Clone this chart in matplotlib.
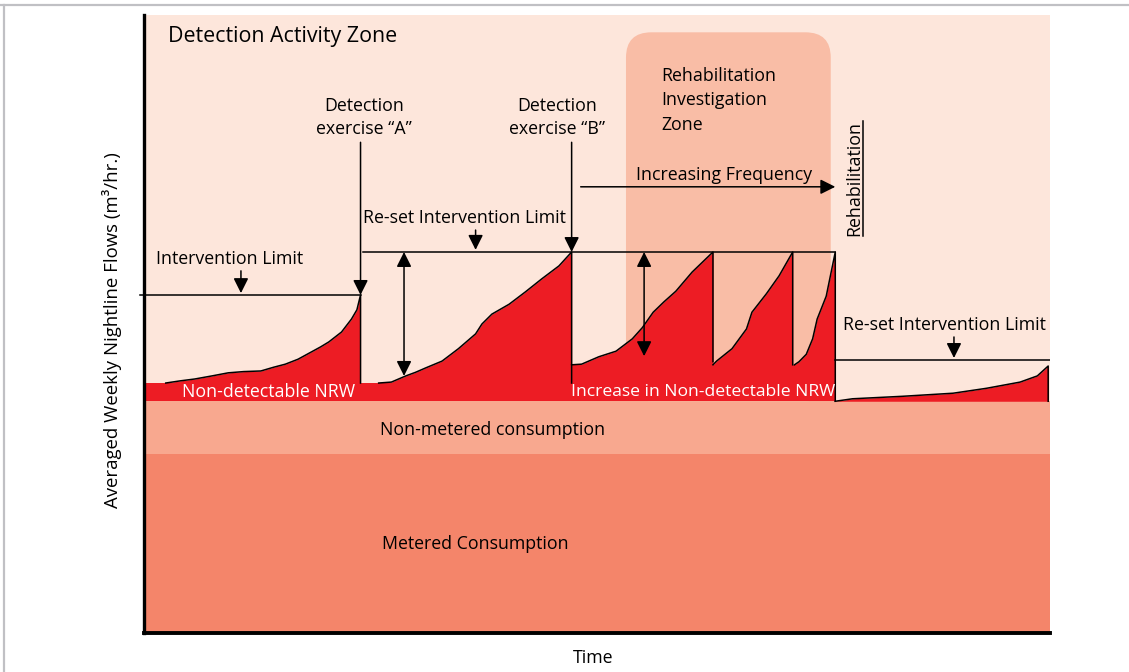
import matplotlib.pyplot as plt
from matplotlib.patches import FancyBboxPatch
from matplotlib.lines import Line2D

plt.rcParams['font.family'] = ['Open Sans', 'DejaVu Sans']

# flow levels on a 0-100 scale (time also 0-100)
metered_top = 29.0
non_metered_top = 37.5
nrw_base = 40.45
nrw_base_raised = 43.4
limit_initial = 54.7
limit_reset = 61.65
limit_final = 44.2

# leakage build-up between interventions
cycle1_t = [2.4, 4.0, 5.6, 7.5, 9.3, 11.0, 12.9, 14.3, 15.6, 17.0, 18.5, 19.5, 20.4, 21.8, 22.9, 23.5, 23.9]
cycle1_v = [40.45, 40.8, 41.1, 41.6, 42.1, 42.3, 42.4, 43.0, 43.5, 44.3, 45.5, 46.3, 47.1, 48.7, 50.8, 52.3, 54.7]
cycle2_t = [25.9, 27.3, 28.9, 30.0, 31.1, 32.9, 34.7, 36.6, 37.3, 38.4, 40.3, 42.1, 43.9, 45.8, 47.2]
cycle2_v = [40.45, 40.6, 41.6, 42.2, 42.9, 44.0, 46.0, 48.4, 50.0, 51.6, 53.2, 55.2, 57.3, 59.4, 61.65]
cycle3_t = [47.2, 48.3, 50.2, 52.1, 53.9, 55.0, 56.2, 57.4, 58.7, 60.5, 62.8]
cycle3_v = [43.4, 43.5, 44.7, 45.6, 47.6, 49.4, 51.9, 53.6, 55.3, 58.4, 61.65]
cycle4_t = [62.8, 63.2, 64.9, 66.5, 67.1, 68.7, 70.1, 71.6]
cycle4_v = [43.4, 44.0, 46.0, 49.2, 51.9, 54.9, 57.8, 61.65]
cycle5_t = [71.8, 72.3, 73.1, 73.8, 74.3, 75.3, 76.3]
cycle5_v = [43.4, 43.9, 45.1, 47.6, 50.8, 54.5, 61.65]
cycle6_t = [76.3, 78.2, 83.7, 89.3, 93.0, 96.7, 98.6, 99.8]
cycle6_v = [37.5, 37.9, 38.3, 38.8, 39.6, 40.6, 41.6, 43.2]

# times of the detection / reset events
t_detect_a = 23.9
t_detect_b = 47.2
t_rehab = 76.3

c_light = '#FDE6DB'
c_zone = '#F9BDA6'
c_nonmet = '#F8A88F'
c_met = '#F4856A'
c_red = '#ED1C24'

fig = plt.figure(figsize=(11.29, 6.72), dpi=100)
ax = fig.add_axes([144 / 1129, 1 - 633 / 672, 906 / 1129, 618 / 672])
ax.set_xlim(0, 100)
ax.set_ylim(0, 100)
ax.set_facecolor(c_light)
ax.set_xticks([])
ax.set_yticks([])
for s in ['top', 'right']:
    ax.spines[s].set_visible(False)
ax.spines['left'].set_linewidth(2.4)
ax.spines['bottom'].set_linewidth(2.8)

# consumption bands
ax.fill_between([0, 100], 0, metered_top, color=c_met, lw=0, zorder=1)
ax.fill_between([0, 100], metered_top, non_metered_top, color=c_nonmet, lw=0, zorder=1)

# rehabilitation investigation zone
zone = FancyBboxPatch((53.2, non_metered_top), 22.6, 97.2 - non_metered_top,
                      boxstyle='round,pad=0,rounding_size=2.8', mutation_aspect=1.46,
                      fc=c_zone, ec='none', zorder=1)
ax.add_patch(zone)

# non-detectable NRW base
ax.fill_between([0, t_detect_b], non_metered_top, nrw_base, color=c_red, lw=0, zorder=2)
ax.fill_between([t_detect_b, t_rehab], non_metered_top, nrw_base_raised, color=c_red, lw=0, zorder=2)

cycles = [(cycle1_t, cycle1_v, nrw_base, nrw_base),
          (cycle2_t, cycle2_v, nrw_base, nrw_base),
          (cycle3_t, cycle3_v, nrw_base_raised, 43.9),
          (cycle4_t, cycle4_v, nrw_base_raised, nrw_base_raised),
          (cycle5_t, cycle5_v, nrw_base_raised, non_metered_top),
          (cycle6_t, cycle6_v, non_metered_top, non_metered_top)]
for t, v, base, drop in cycles:
    ax.fill_between(t, base, v, color=c_red, lw=0, zorder=2)
    ax.plot(t + [t[-1]], v + [drop], color='black', lw=1.1, zorder=3)

# intervention limits
ax.plot([-0.4, t_detect_a], [limit_initial] * 2, color='black', lw=1.1, zorder=3, clip_on=False)
ax.plot([24.2, t_rehab], [limit_reset] * 2, color='black', lw=1.1, zorder=3)
ax.plot([t_rehab, 100], [limit_final] * 2, color='black', lw=1.1, zorder=3)

arrow = dict(arrowstyle='-|>,head_length=0.9,head_width=0.45', color='black', lw=1.1, shrinkA=0, shrinkB=0)
darrow = dict(arrowstyle='<|-|>,head_length=0.9,head_width=0.45', color='black', lw=1.1, shrinkA=0, shrinkB=0)

def arr(x0, y0, x1, y1, props=arrow):
    ax.annotate('', xy=(x1, y1), xytext=(x0, y0), arrowprops=props, zorder=4)

arr(t_detect_a, 79.4, t_detect_a, limit_initial)
arr(t_detect_b, 79.4, t_detect_b, limit_reset)
arr(10.7, 58.6, 10.7, 55.0)
arr(36.6, 65.2, 36.6, 62.0)
arr(89.4, 47.9, 89.4, 44.5)
arr(48.2, 72.2, t_rehab, 72.2)
arr(28.7, 61.65, 28.7, 41.6, darrow)
arr(55.2, 61.65, 55.2, 44.8, darrow)

fs = 12.8
ax.text(2.65, 96.6, 'Detection Activity Zone', fontsize=15.4, ha='left', va='center', zorder=5)
ax.text(24.3, 83.4, 'Detection\nexercise \u201cA\u201d', fontsize=fs, ha='center', va='center',
        linespacing=1.4, zorder=5)
ax.text(45.6, 83.4, 'Detection\nexercise \u201cB\u201d', fontsize=fs, ha='center', va='center',
        linespacing=1.4, zorder=5)
ax.text(57.1, 86.2, 'Rehabilitation\nInvestigation\nZone', fontsize=fs, ha='left', va='center',
        linespacing=1.45, zorder=5)
ax.text(64.0, 74.1, 'Increasing Frequency', fontsize=fs, ha='center', va='center', zorder=5)
ax.text(35.4, 67.2, 'Re-set Intervention Limit', fontsize=fs, ha='center', va='center', zorder=5)
ax.text(9.4, 60.5, 'Intervention Limit', fontsize=fs, ha='center', va='center', zorder=5)
ax.text(88.3, 49.8, 'Re-set Intervention Limit', fontsize=fs, ha='center', va='center', zorder=5)
ax.text(13.8, 39.0, 'Non-detectable NRW', fontsize=fs, ha='center', va='center', color='white', zorder=5)
ax.text(61.7, 39.0, 'Increase in Non-detectable NRW', fontsize=12.6, ha='center', va='center',
        color='white', zorder=5)
ax.text(38.5, 32.8, 'Non-metered consumption', fontsize=fs, ha='center', va='center', zorder=5)
ax.text(36.6, 14.4, 'Metered Consumption', fontsize=fs, ha='center', va='center', zorder=5)
ax.text(78.4, 73.5, 'Rehabilitation', fontsize=fs, rotation=90, ha='center', va='center', zorder=5)
ax.plot([79.4, 79.4], [64.2, 82.8], color='black', lw=1.1, zorder=5)

fig.text(593 / 1129, 1 - 658 / 672, 'Time', fontsize=fs, ha='center', va='center')
fig.text(112 / 1129, 1 - 330 / 672, 'Averaged Weekly Nightline Flows (m\u00b3/hr.)', fontsize=13.4,
         rotation=90, ha='center', va='center')

# grey frame
fig.add_artist(Line2D([0, 1], [1 - 5 / 672] * 2, transform=fig.transFigure, color='#C0C0C4', lw=1.6))
fig.add_artist(Line2D([4 / 1129] * 2, [0, 1 - 5 / 672], transform=fig.transFigure, color='#C0C0C4', lw=1.6))

fig.savefig('out.png', dpi=100)
